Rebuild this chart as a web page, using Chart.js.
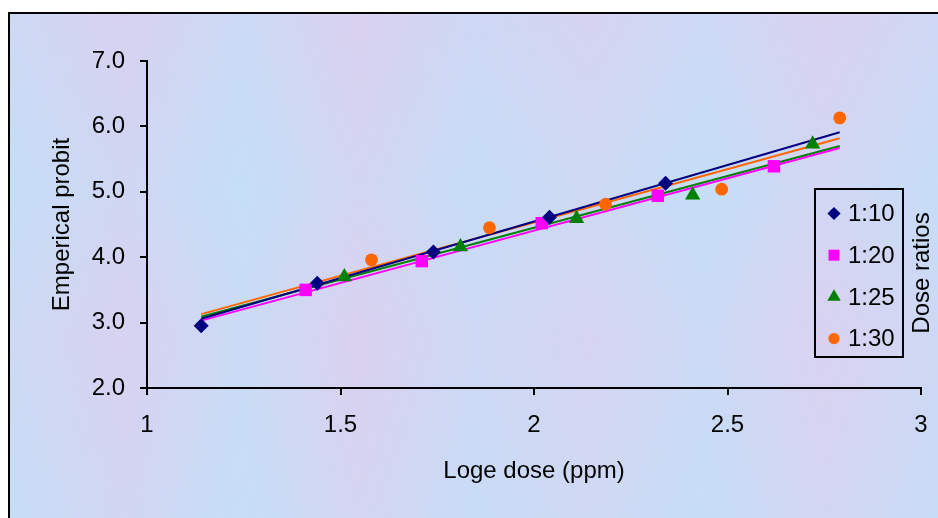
<!DOCTYPE html>
<html><head><meta charset="utf-8">
<script src="https://cdn.jsdelivr.net/npm/chart.js@4.4.0/dist/chart.umd.min.js"></script>
<style>
html,body{margin:0;padding:0;background:#fff;overflow:hidden;width:938px;height:518px;}
#frame{position:absolute;left:8px;top:12px;border-left:2px solid #000;border-top:2px solid #000;width:928px;height:504px;}
canvas{display:block;}
</style></head><body>
<div id="frame"><canvas id="c" width="928" height="504"></canvas></div>
<script>
// ---- data ----
const seriesLabels = ['1:10', '1:20', '1:25', '1:30'];
const dose10   = [1.14, 1.44, 1.74, 2.04, 2.34];
const probit10 = [2.95, 3.60, 4.08, 4.61, 5.13];
const dose20   = [1.41, 1.71, 2.02, 2.32, 2.62];
const probit20 = [3.50, 3.94, 4.52, 4.94, 5.39];
const dose25   = [1.51, 1.81, 2.11, 2.41, 2.72];
const probit25 = [3.70, 4.16, 4.59, 4.95, 5.73];
const dose30   = [1.58, 1.885, 2.185, 2.485, 2.79];
const probit30 = [3.96, 4.45, 4.81, 5.04, 6.13];
// trendline ends (x range and fitted y at both ends)
const trendX  = [1.14, 2.79];
const trend10 = [3.06, 5.91];
const trend20 = [3.03, 5.67];
const trend25 = [3.09, 5.70];
const trend30 = [3.13, 5.82];
const xTicks = [1, 1.5, 2, 2.5, 3];
const yTicks = [2, 3, 4, 5, 6, 7];
const xTitle = 'Loge dose (ppm)';
const yTitle = 'Emperical probit';
const legendTitle = 'Dose ratios';

// ---- styling ----
const FONT = "'Liberation Sans', Arial, sans-serif";
const colors = ['#000080', '#FF00FF', '#008000', '#FF6600'];
const styles = ['rectRot', 'rect', 'triangle', 'circle'];
const radii  = [7.5, 8.8, 8.8, 6.4];

const pts = (xs, ys) => xs.map((x, i) => ({x, y: ys[i]}));
const doses = [dose10, dose20, dose25, dose30];
const probits = [probit10, probit20, probit25, probit30];
const trends = [trend10, trend20, trend25, trend30];

const datasets = [];
for (let i = 0; i < 4; i++) {
  datasets.push({
    label: seriesLabels[i], type: 'scatter', data: pts(doses[i], probits[i]),
    pointStyle: styles[i], pointRadius: radii[i], pointHoverRadius: radii[i],
    backgroundColor: colors[i], borderColor: colors[i], borderWidth: 0,
    showLine: false, order: 1, isSeries: true
  });
}
for (let i = 0; i < 4; i++) {
  datasets.push({
    label: seriesLabels[i] + ' trend', type: 'line', data: pts(trendX, trends[i]),
    borderColor: colors[i], borderWidth: 2, pointRadius: 0, fill: false,
    tension: 0, order: 2
  });
}

const bgPlugin = {
  id: 'bg',
  beforeDraw(chart) {
    const {ctx, width, height} = chart;
    ctx.save();
    const g = ctx.createLinearGradient(0, 0, width, 0);
    const cols = ['#c8dcf5', '#d6d3f1', '#c6def6', '#d9d2f0', '#c9dbf5', '#d3d6f2', '#c7ddf6', '#d8d3f1', '#cadbf5'];
    cols.forEach((c, i) => g.addColorStop(i / (cols.length - 1), c));
    ctx.fillStyle = g;
    ctx.fillRect(0, 0, width, height);
    const v = ctx.createLinearGradient(0, 0, 0, height);
    v.addColorStop(0, 'rgba(220,205,240,0.25)');
    v.addColorStop(0.35, 'rgba(190,225,248,0.25)');
    v.addColorStop(0.65, 'rgba(222,206,240,0.2)');
    v.addColorStop(1, 'rgba(195,222,247,0.25)');
    ctx.fillStyle = v;
    ctx.fillRect(0, 0, width, height);
    ctx.restore();
  }
};

const legendPlugin = {
  id: 'customLegend',
  afterDraw(chart) {
    const {ctx} = chart;
    const box = {l: 805, t: 175, r: 893, b: 343};
    ctx.save();
    ctx.lineWidth = 2;
    ctx.strokeStyle = '#000';
    ctx.strokeRect(box.l, box.t, box.r - box.l, box.b - box.t);
    ctx.font = '24px ' + FONT;
    ctx.textBaseline = 'middle';
    ctx.textAlign = 'left';
    const series = chart.data.datasets.filter(d => d.isSeries);
    series.forEach((d, i) => {
      const y = box.t + 24.5 + i * 41.7;
      ctx.fillStyle = d.backgroundColor;
      ctx.strokeStyle = d.borderColor;
      Chart.helpers.drawPoint(ctx, {pointStyle: d.pointStyle, radius: d.pointRadius * 0.88, rotation: 0, borderWidth: 0}, box.l + 19, y);
      ctx.fillStyle = '#000';
      ctx.fillText(d.label, box.l + 33, y + 1);
    });
    ctx.translate(912, 259);
    ctx.rotate(-Math.PI / 2);
    ctx.textAlign = 'center';
    ctx.fillStyle = '#000';
    ctx.fillText(legendTitle, 0, 0);
    ctx.restore();
  }
};

Chart.defaults.font.family = FONT;
Chart.defaults.font.size = 24;
Chart.defaults.color = '#000';

new Chart(document.getElementById('c'), {
  type: 'scatter',
  data: {datasets},
  options: {
    responsive: false, animation: false, devicePixelRatio: 1,
    layout: {padding: {top: 47, right: 17, left: 0, bottom: 0}},
    plugins: {legend: {display: false}, tooltip: {enabled: false}},
    scales: {
      x: {
        type: 'linear', min: xTicks[0], max: xTicks[xTicks.length - 1],
        afterBuildTicks: s => { s.ticks = xTicks.map(v => ({value: v})); },
        afterFit: s => { s.height = 130; s.paddingRight = 0; s.paddingLeft = 0; },
        ticks: {padding: 16, font: {size: 24}, callback: v => String(v)},
        grid: {drawOnChartArea: false, drawTicks: true, tickLength: 7, color: '#000', lineWidth: 2},
        border: {display: true, color: '#000', width: 2},
        title: {display: true, text: xTitle, font: {size: 24}, padding: {top: 0, bottom: 32}}
      },
      y: {
        type: 'linear', min: yTicks[0], max: yTicks[yTicks.length - 1],
        afterBuildTicks: s => { s.ticks = yTicks.map(v => ({value: v})); },
        afterFit: s => { s.width = 137; s.paddingTop = 0; s.paddingBottom = 0; },
        ticks: {padding: 15, font: {size: 24}, callback: v => Number(v).toFixed(1)},
        grid: {drawOnChartArea: false, drawTicks: true, tickLength: 7, color: '#000', lineWidth: 2},
        border: {display: true, color: '#000', width: 2},
        title: {display: true, text: yTitle, font: {size: 24}, padding: {top: 38, bottom: 0}}
      }
    }
  },
  plugins: [bgPlugin, legendPlugin]
});
</script>
</body></html>
